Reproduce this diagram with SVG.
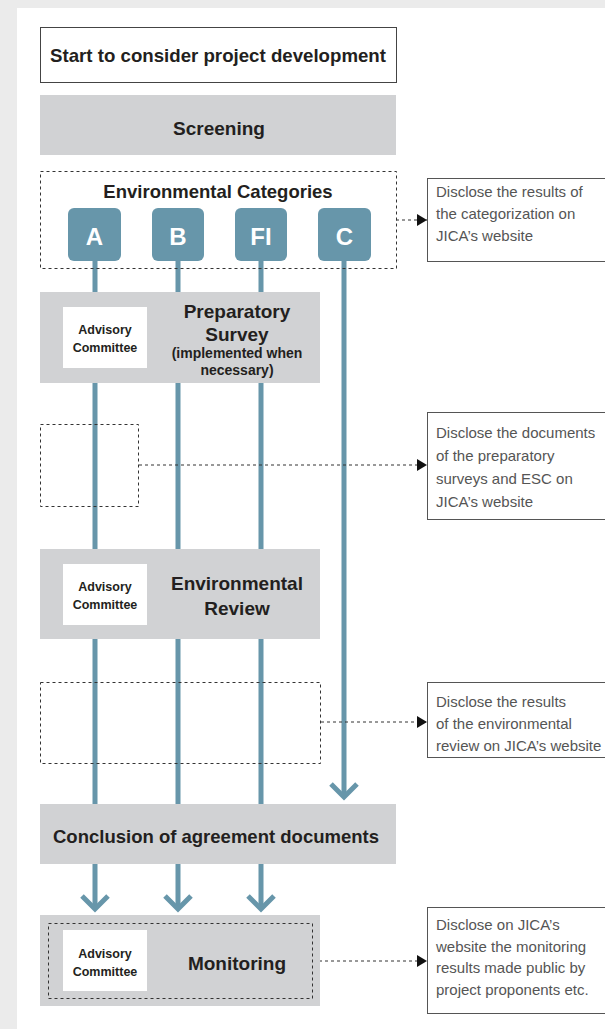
<svg xmlns="http://www.w3.org/2000/svg" width="605" height="1029" viewBox="0 0 605 1029">
<defs>
<style>
.b{font-family:"Liberation Sans",Arial,sans-serif;font-weight:bold;fill:#231f20;text-anchor:middle}
.t{font-size:18.5px}
.ac{font-size:12.5px}
.cat{font-family:"Liberation Sans",Arial,sans-serif;font-weight:bold;fill:#fff;font-size:24px;text-anchor:middle}
.d{font-family:"Liberation Sans",Arial,sans-serif;font-size:15px;fill:#555}
.gray{fill:#d1d2d4}
.dash{fill:none;stroke:#333;stroke-width:1;stroke-dasharray:3,3}
.flow{stroke:#6796aa;stroke-width:5;fill:none}
.chev{stroke:#6796aa;stroke-width:5;fill:none;stroke-linejoin:miter}
.disc{fill:#fff;stroke:#555;stroke-width:1}
.ad{fill:#fff}
</style>
<marker id="ah" markerWidth="10" markerHeight="12" refX="10" refY="6" orient="auto" markerUnits="userSpaceOnUse">
<path d="M0,0 L10,6 L0,12 Z" fill="#111"/>
</marker>
</defs>
<rect x="0" y="0" width="605" height="1029" fill="#ebebeb"/>
<rect x="17" y="8" width="588" height="1021" fill="#fff"/>

<g id="connectors">
<line class="flow" x1="95" y1="258" x2="95" y2="908"/>
<line class="flow" x1="178" y1="258" x2="178" y2="908"/>
<line class="flow" x1="261" y1="258" x2="261" y2="908"/>
<line class="flow" x1="344" y1="258" x2="344" y2="796"/>
<polyline class="chev" points="331,784 344,797 357,784"/>
<polyline class="chev" points="82,896 95,909 108,896"/>
<polyline class="chev" points="165,896 178,909 191,896"/>
<polyline class="chev" points="248,896 261,909 274,896"/>
<line class="dash" x1="396" y1="220" x2="427" y2="220" marker-end="url(#ah)"/>
<line class="dash" x1="139" y1="465" x2="427" y2="465" marker-end="url(#ah)"/>
<line class="dash" x1="321" y1="722" x2="427" y2="722" marker-end="url(#ah)"/>
<line class="dash" x1="313" y1="961" x2="427" y2="961" marker-end="url(#ah)"/>
</g>

<g id="start">
<rect x="40.5" y="27.5" width="356" height="55" fill="#fff" stroke="#444" stroke-width="1"/>
<text class="b" x="218" y="62" font-size="18.5" textLength="336" lengthAdjust="spacingAndGlyphs">Start to consider project development</text>
</g>

<g id="screening">
<rect class="gray" x="40" y="95" width="356" height="60"/>
<text class="b" x="219" y="135" font-size="19">Screening</text>
</g>

<g id="categories">
<rect class="dash" x="40.5" y="171.5" width="356" height="97"/>
<text class="b t" x="218" y="198">Environmental Categories</text>
</g>
<g id="cat-A"><rect x="68" y="208" width="53" height="53" rx="6" fill="#6796aa"/><text class="cat" x="94.5" y="245">A</text></g>
<g id="cat-B"><rect x="152" y="208" width="52" height="53" rx="6" fill="#6796aa"/><text class="cat" x="178" y="245">B</text></g>
<g id="cat-FI"><rect x="235" y="208" width="52" height="53" rx="6" fill="#6796aa"/><text class="cat" x="261" y="245">FI</text></g>
<g id="cat-C"><rect x="318" y="208" width="53" height="53" rx="6" fill="#6796aa"/><text class="cat" x="344.5" y="245">C</text></g>

<g id="prep">
<rect class="gray" x="40" y="292" width="280" height="91"/>
<rect class="ad" x="63" y="307" width="84" height="61"/>
<text class="b ac" x="105" y="334">Advisory</text>
<text class="b ac" x="105" y="352">Committee</text>
<text class="b" x="237" y="318" font-size="19">Preparatory</text>
<text class="b" x="237" y="341" font-size="19">Survey</text>
<text class="b" x="237" y="358" font-size="14">(implemented when</text>
<text class="b" x="237" y="375" font-size="14">necessary)</text>
</g>

<g id="prep-docs">
<rect class="dash" x="40.5" y="424.5" width="98" height="82"/>
</g>

<g id="review">
<rect class="gray" x="40" y="549" width="280" height="90"/>
<rect class="ad" x="63" y="564" width="84" height="61"/>
<text class="b ac" x="105" y="591">Advisory</text>
<text class="b ac" x="105" y="609">Committee</text>
<text class="b" x="237" y="590" font-size="19">Environmental</text>
<text class="b" x="237" y="615" font-size="19">Review</text>
</g>

<g id="review-results">
<rect class="dash" x="40.5" y="682.5" width="280" height="81"/>
</g>

<g id="conclusion">
<rect class="gray" x="40" y="804" width="356" height="60"/>
<text class="b" x="216" y="843" font-size="19" textLength="326" lengthAdjust="spacingAndGlyphs">Conclusion of agreement documents</text>
</g>

<g id="monitoring">
<rect class="gray" x="40" y="915" width="280" height="91"/>
<rect class="dash" x="48.5" y="923.5" width="264" height="75"/>
<rect class="ad" x="63" y="930" width="84" height="61"/>
<text class="b ac" x="105" y="958">Advisory</text>
<text class="b ac" x="105" y="976">Committee</text>
<text class="b" x="237" y="970" font-size="19">Monitoring</text>
</g>

<g id="disclose-1">
<rect class="disc" x="427.5" y="178.5" width="190" height="83"/>
<text class="d" x="436" y="197">Disclose the results of</text>
<text class="d" x="436" y="219">the categorization on</text>
<text class="d" x="436" y="241">JICA’s website</text>
</g>

<g id="disclose-2">
<rect class="disc" x="427.5" y="412.5" width="190" height="107"/>
<text class="d" x="436" y="438">Disclose the documents</text>
<text class="d" x="436" y="461">of the preparatory</text>
<text class="d" x="436" y="484">surveys and ESC on</text>
<text class="d" x="436" y="507">JICA’s website</text>
</g>

<g id="disclose-3">
<rect class="disc" x="427.5" y="682.5" width="190" height="75"/>
<text class="d" x="436" y="707">Disclose the results</text>
<text class="d" x="436" y="729">of the environmental</text>
<text class="d" x="436" y="751">review on JICA’s website</text>
</g>

<g id="disclose-4">
<rect class="disc" x="427.5" y="907.5" width="190" height="106"/>
<text class="d" x="436" y="930">Disclose on JICA’s</text>
<text class="d" x="436" y="952">website the monitoring</text>
<text class="d" x="436" y="973">results made public by</text>
<text class="d" x="436" y="995">project proponents etc.</text>
</g>
</svg>
